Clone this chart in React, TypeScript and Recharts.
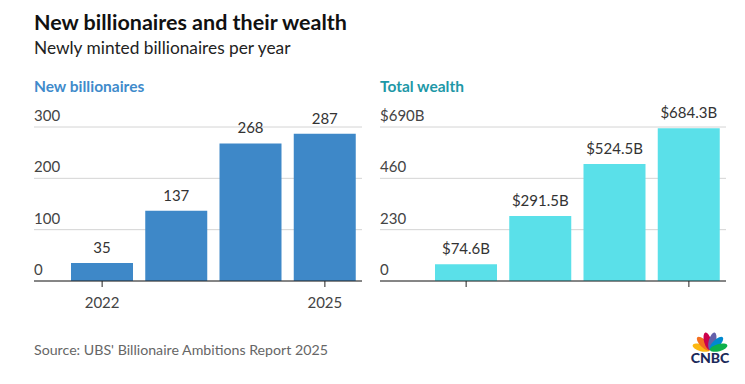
import { BarChart, Bar, XAxis, YAxis, CartesianGrid, LabelList } from 'recharts'

const YEARS = ['2022', '2023', '2024', '2025']
const NEW_BILLIONAIRES = [35, 137, 268, 287]
const TOTAL_WEALTH = [74.6, 291.5, 524.5, 684.3]
const COUNT_TICKS = [0, 100, 200, 300]
const WEALTH_TICKS = [0, 230, 460, 690]
const SHOWN_YEARS = ['2022', '2025']

const FONT = 'Lato, "Open Sans", sans-serif'
const BLUE = '#3e88c8'
const CYAN = '#5ae0e9'
const TEXT = '#333333'
const GRID = '#d4d4d4'

const countData = YEARS.map((year, i) => ({ year, value: NEW_BILLIONAIRES[i] }))
const wealthData = YEARS.map((year, i) => ({ year, value: TOTAL_WEALTH[i] }))

// y labels sit above their gridline, flush with the plot's left edge
function makeYTick(left: number, format: (v: number) => string) {
  return (props: any) => (
    <text
      x={left}
      y={props.y - 6}
      fill="#444"
      fontSize={15}
      fontFamily={FONT}
      textAnchor="start"
    >
      {format(props.payload.value)}
    </text>
  )
}

function makeXTick(showLabel: boolean) {
  return (props: any) => {
    const { x, y, payload } = props
    if (!SHOWN_YEARS.includes(payload.value)) return <g />
    return (
      <g>
        <line x1={x} x2={x} y1={y} y2={y + 6} stroke="#222" strokeWidth={1} />
        {showLabel && (
          <text x={x} y={y + 27} fill="#444" fontSize={15} fontFamily={FONT} textAnchor="middle">
            {payload.value}
          </text>
        )}
      </g>
    )
  }
}

function Peacock() {
  const colors = ['#fcb711', '#f37021', '#cc004c', '#6460aa', '#0089d0', '#0db14b']
  const angles = [-75, -45, -15, 15, 45, 75]
  return (
    <svg width={44} height={38} style={{ position: 'absolute', left: 688, top: 328 }}>
      {angles.map((a, i) => (
        <ellipse
          key={i}
          cx={22}
          cy={13}
          rx={3.6}
          ry={9}
          fill={colors[i]}
          transform={`rotate(${a} 22 22)`}
        />
      ))}
      <text x={22} y={35} textAnchor="middle" fontSize={14} fontWeight={900} fill="#1b2a5b" fontFamily={FONT}>
        CNBC
      </text>
    </svg>
  )
}

export default function App() {
  return (
    <div
      style={{
        position: 'absolute',
        left: 0,
        top: 0,
        width: 745,
        height: 384,
        background: '#fff',
        fontFamily: FONT,
        overflow: 'hidden',
      }}
    >
      <div style={{ position: 'absolute', left: 34, top: 9, fontSize: 21.5, fontWeight: 700, color: '#111' }}>
        New billionaires and their wealth
      </div>
      <div style={{ position: 'absolute', left: 34, top: 37, fontSize: 17.3, color: '#222' }}>
        Newly minted billionaires per year
      </div>
      <div style={{ position: 'absolute', left: 34, top: 77, fontSize: 15.5, fontWeight: 700, color: '#3f8bcb' }}>
        New billionaires
      </div>
      <div style={{ position: 'absolute', left: 380, top: 77, fontSize: 15.5, fontWeight: 700, color: '#1d98a7' }}>
        Total wealth
      </div>

      <div style={{ position: 'absolute', left: 0, top: 100 }}>
        <BarChart
          width={370}
          height={220}
          data={countData}
          margin={{ top: 27, right: 8, bottom: 0, left: 33 }}
          barSize={62}
        >
          <CartesianGrid horizontal vertical={false} stroke={GRID} />
          <XAxis
            dataKey="year"
            height={39}
            padding={{ left: 31, right: 0 }}
            axisLine={{ stroke: '#222' }}
            tickLine={false}
            tickSize={0}
            tickMargin={0}
            interval={0}
            tick={makeXTick(true)}
          />
          <YAxis
            width={1}
            domain={[0, 300]}
            ticks={COUNT_TICKS}
            interval={0}
            axisLine={false}
            tickLine={false}
            tick={makeYTick(34, (v) => String(v))}
          />
          <Bar dataKey="value" fill={BLUE} isAnimationActive={false}>
            <LabelList
              dataKey="value"
              position="top"
              offset={10}
              fill={TEXT}
              fontSize={15}
              fontFamily={FONT}
            />
          </Bar>
        </BarChart>
      </div>

      <div style={{ position: 'absolute', left: 370, top: 100 }}>
        <BarChart
          width={375}
          height={220}
          data={wealthData}
          margin={{ top: 27, right: 19, bottom: 0, left: 9 }}
          barSize={62}
        >
          <CartesianGrid horizontal vertical={false} stroke={GRID} />
          <XAxis
            dataKey="year"
            height={39}
            padding={{ left: 49, right: 0 }}
            axisLine={{ stroke: '#222' }}
            tickLine={false}
            tickSize={0}
            tickMargin={0}
            interval={0}
            tick={makeXTick(false)}
          />
          <YAxis
            width={1}
            domain={[0, 690]}
            ticks={WEALTH_TICKS}
            interval={0}
            axisLine={false}
            tickLine={false}
            tick={makeYTick(10, (v) => (v === 690 ? `$${v}B` : String(v)))}
          />
          <Bar dataKey="value" fill={CYAN} isAnimationActive={false}>
            <LabelList
              dataKey="value"
              position="top"
              offset={10}
              fill={TEXT}
              fontSize={15}
              fontFamily={FONT}
              formatter={(v: any) => `$${Number(v).toFixed(1)}B`}
            />
          </Bar>
        </BarChart>
      </div>

      <div style={{ position: 'absolute', left: 34, top: 341, fontSize: 14.2, color: '#666' }}>
        Source: UBS' Billionaire Ambitions Report 2025
      </div>
      <Peacock />
    </div>
  )
}
